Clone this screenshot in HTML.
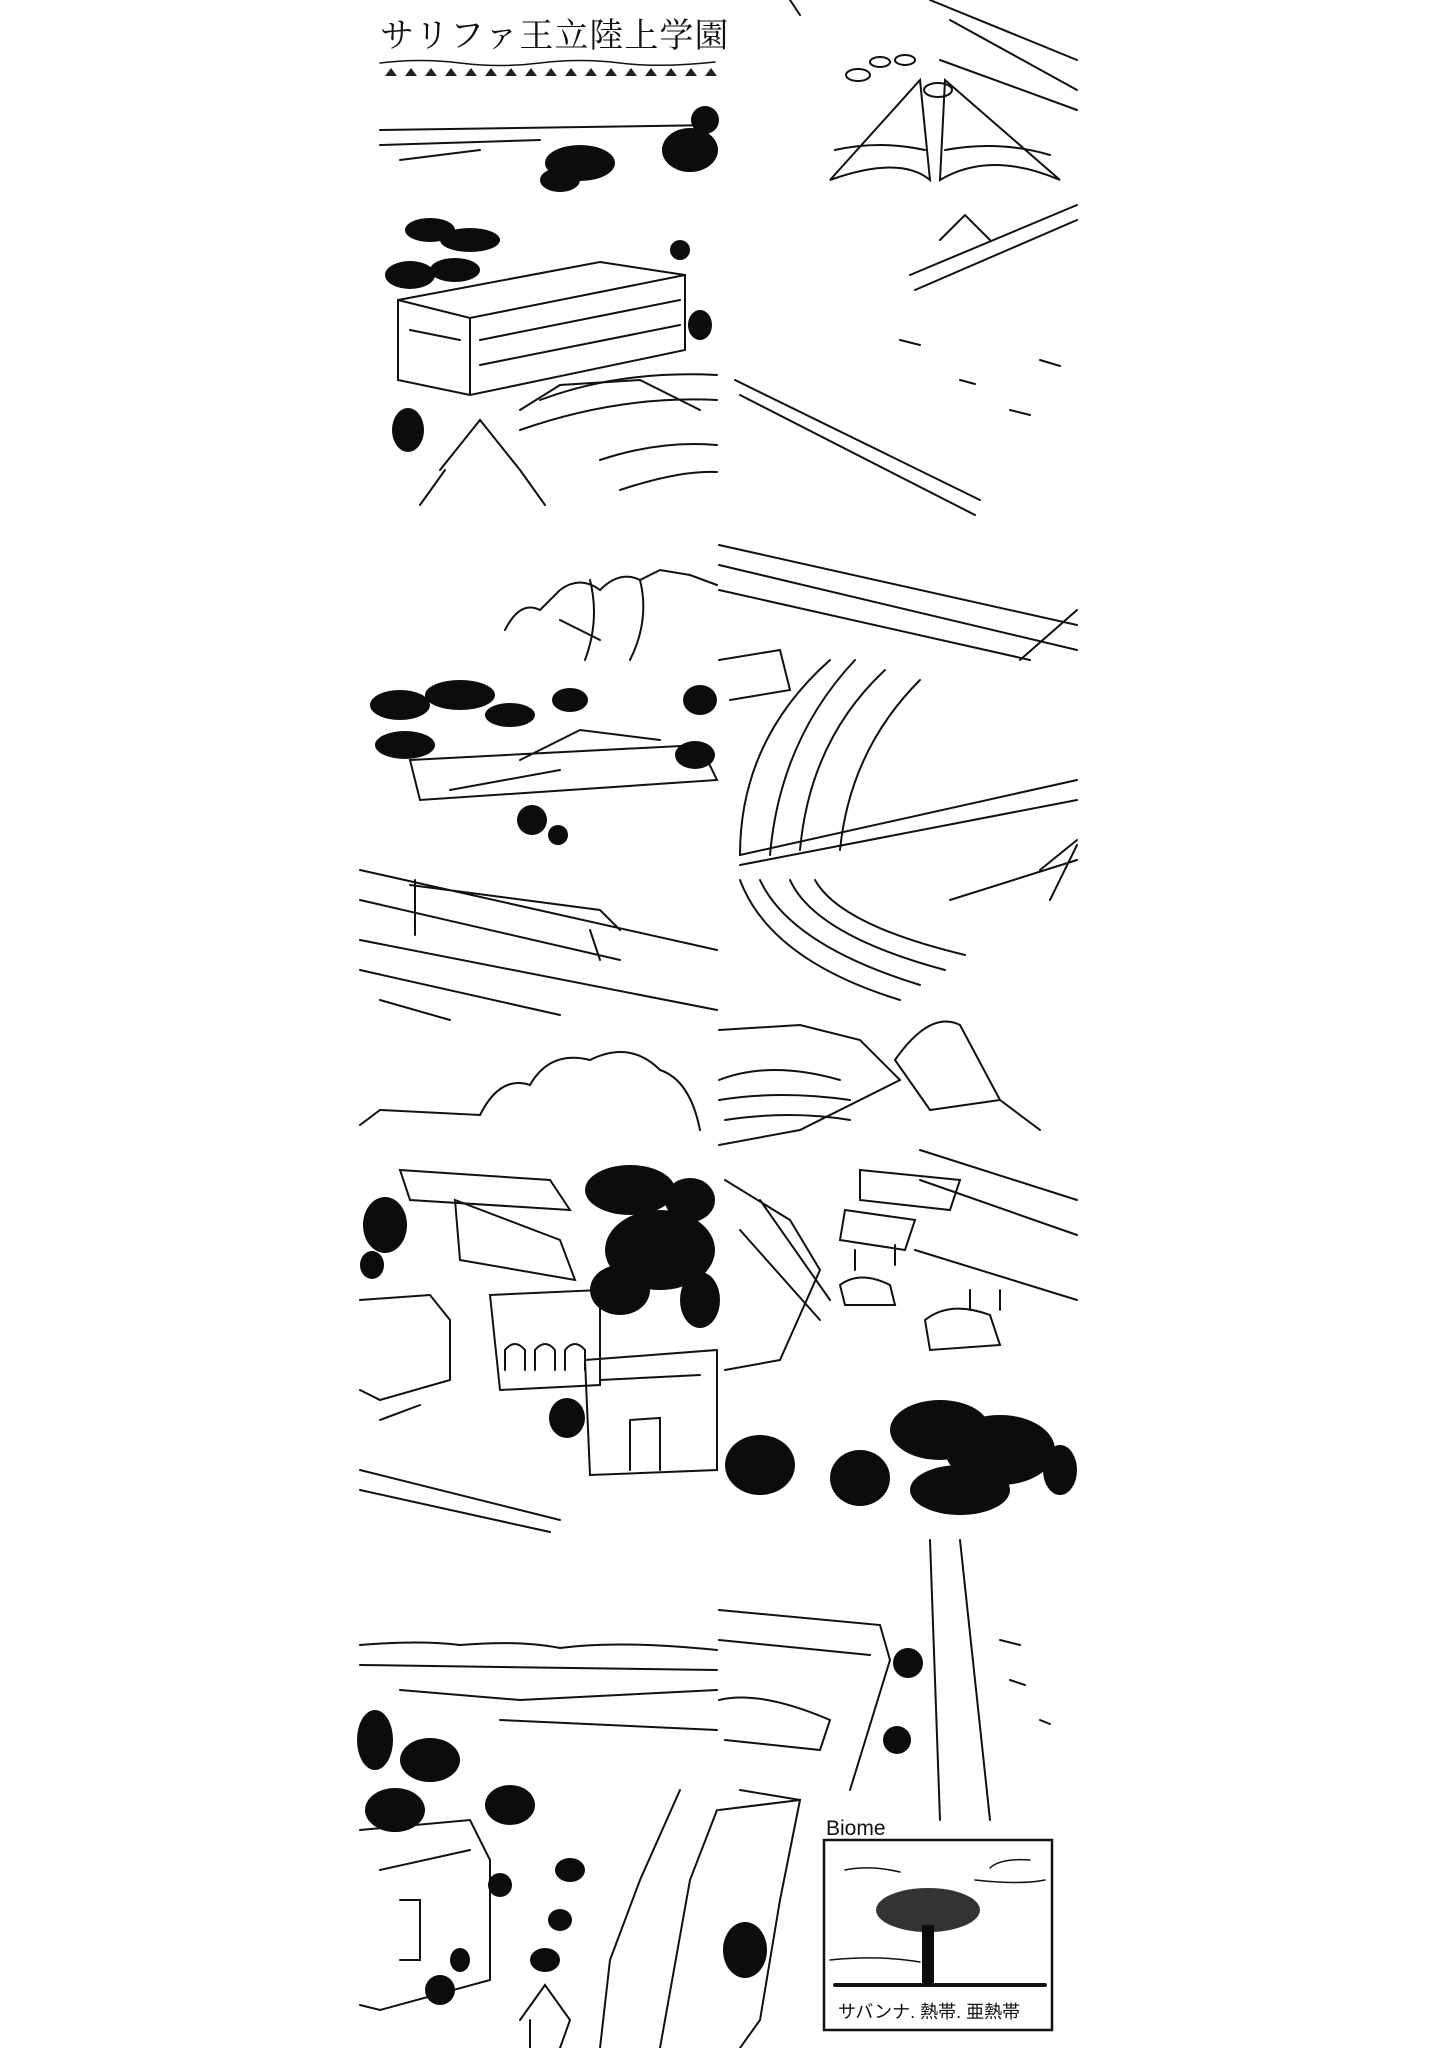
<!DOCTYPE html>
<html><head><meta charset="utf-8"><style>
html,body{margin:0;padding:0;background:#fff;width:1445px;height:2048px;overflow:hidden}
svg{position:absolute;left:0;top:0}
</style></head><body>
<svg width="1445" height="2048" viewBox="0 0 1445 2048" xmlns="http://www.w3.org/2000/svg">
<g fill="none" stroke="#111" stroke-width="2" stroke-linecap="round">
<!-- Panel 1 (col1,row1) -->
<text x="380" y="47" font-family="'Liberation Serif','Noto Serif CJK SC',serif" font-size="34" fill="#111" stroke="none" letter-spacing="1">サリファ王立陸上学園</text>
<path d="M380 63 Q420 58 460 63 T540 63 T620 63 T715 62" stroke-width="1.5"/>
<g fill="#222" stroke="none">
<path d="M385 76l6-8 6 8z M405 76l6-8 6 8z M425 76l6-8 6 8z M445 76l6-8 6 8z M465 76l6-8 6 8z M485 76l6-8 6 8z M505 76l6-8 6 8z M525 76l6-8 6 8z M545 76l6-8 6 8z M565 76l6-8 6 8z M585 76l6-8 6 8z M605 76l6-8 6 8z M625 76l6-8 6 8z M645 76l6-8 6 8z M665 76l6-8 6 8z M685 76l6-8 6 8z M705 76l6-8 6 8z"/>
</g>
<path d="M380 130 L717 125 M380 145 L540 140 M400 160 L480 150"/>
<path d="M398 300 L600 262 L685 275 L685 350 L470 395 L398 380 Z M398 300 L470 318 L685 275 M470 318 L470 395"/>
<path d="M410 330 L460 340 M480 340 L680 300 M480 365 L680 325"/>
<path d="M540 400 Q620 370 717 375 M520 430 Q620 395 717 400 M600 460 Q660 440 717 445 M620 490 Q680 470 717 472"/>
<path d="M440 470 L480 420 L520 470 M420 505 L445 470 M520 470 L545 505"/>
<path d="M520 410 L560 385 L640 380 L700 410"/>
<!-- Panel 2 (col2,row1) -->
<path d="M790 0 L800 15 M930 0 L1077 60 M950 20 L1077 90 M940 60 L1077 110"/>
<path d="M830 180 Q900 155 930 180 L920 80 Z M940 180 Q990 150 1060 180 L945 80 Z"/>
<path d="M835 150 Q880 140 925 150 M945 150 Q1000 140 1050 155"/>
<ellipse cx="858" cy="75" rx="12" ry="6"/><ellipse cx="880" cy="62" rx="10" ry="5"/><ellipse cx="905" cy="60" rx="10" ry="5"/><ellipse cx="938" cy="90" rx="14" ry="7"/>
<path d="M910 275 L1077 205 M915 290 L1077 220 M940 240 L965 215 L990 240"/>
<path d="M735 380 L980 500 M740 395 L975 515"/>
<path d="M900 340 l20 5 M960 380 l15 4 M1010 410 l20 5 M1040 360 l20 6"/>
<!-- Panel 3 (col1,row2) -->
<path d="M505 630 Q520 600 540 610 L560 590 Q580 575 600 590 Q620 570 640 580 L660 570 L690 575 L717 585"/>
<path d="M560 620 L600 640 M590 580 Q600 620 585 660 M640 580 Q650 620 630 660"/>
<path d="M410 760 L700 745 L717 780 L420 800 Z M450 790 L560 770 M520 760 L580 730 L660 740"/>
<path d="M360 870 L717 950 M360 900 L620 960 M410 885 L600 910 L620 930 M360 940 L717 1010 M360 970 L560 1015 M380 1000 L450 1020"/>
<path d="M415 880 L415 935 M590 930 L600 960"/>
<!-- Panel 4 (col2,row2) -->
<path d="M719 545 L1077 625 M719 565 L1077 650 M719 590 L1030 660 M1020 660 L1077 610"/>
<path d="M830 660 Q740 740 740 855 M855 660 Q780 740 770 855 M885 670 Q810 740 800 850 M920 680 Q850 750 840 850"/>
<path d="M740 855 L1077 780 M740 865 L1077 800"/>
<path d="M740 880 Q770 960 900 1000 M760 880 Q790 945 920 985 M790 880 Q815 935 945 970 M815 880 Q840 925 965 955"/>
<path d="M1050 900 L1077 845 M1077 840 L1040 870 M950 900 L1077 860"/>
<path d="M719 660 L780 650 L790 690 L730 700"/>
<!-- Panel 5 (col1,row3) -->
<path d="M360 1125 L380 1110 L480 1115 Q500 1075 530 1085 Q550 1050 590 1060 Q630 1040 660 1070 Q690 1080 700 1130"/>
<path d="M400 1170 L550 1180 L570 1210 L410 1200 Z M360 1300 L430 1295 L450 1320 L450 1380 L380 1400 L360 1390"/>
<path d="M490 1295 L600 1290 L600 1385 L500 1390 Z M505 1370 l0-20 q10-12 20 0 l0 20 M535 1370 l0-20 q10-12 20 0 l0 20 M565 1370 l0-20 q10-12 20 0 l0 20"/>
<path d="M585 1360 L717 1350 L717 1470 L590 1475 Z M600 1380 L700 1375 M630 1420 L660 1418 L660 1470 M630 1420 L630 1470"/>
<path d="M360 1470 L560 1520 M360 1490 L550 1532 M380 1420 L420 1405"/>
<path d="M455 1200 L560 1240 L575 1280 L460 1260 Z"/>
<!-- Panel 6 (col2,row3) -->
<path d="M719 1030 L800 1025 L860 1040 L900 1080 L800 1130 L719 1145"/>
<path d="M719 1080 Q770 1060 840 1080 M719 1100 Q780 1090 850 1100 M725 1120 Q790 1110 850 1120"/>
<path d="M895 1060 Q930 1010 960 1025 L1000 1100 L930 1110 Z M1000 1100 L1040 1130"/>
<path d="M860 1170 L960 1180 L950 1210 L860 1200 Z M845 1210 L915 1220 L905 1250 L840 1240 Z"/>
<path d="M920 1150 L1077 1200 M920 1180 L1077 1235 M915 1250 L1077 1300"/>
<path d="M840 1285 Q860 1270 890 1285 L895 1305 L845 1305 Z M925 1320 Q950 1300 990 1315 L1000 1345 L930 1350 Z"/>
<path d="M725 1180 L790 1220 L820 1270 L780 1360 L725 1370 M740 1230 L820 1320 M760 1200 L830 1300"/>
<path d="M855 1270 L855 1250 M895 1265 L895 1245 M970 1310 L970 1290 M1000 1310 L1000 1290"/>
<!-- Panel 7 (col1,row4) -->
<path d="M360 1645 Q420 1640 460 1645 Q520 1640 560 1648 Q620 1640 717 1650 M360 1665 L717 1670 M400 1690 L520 1700 L717 1690 M500 1720 L717 1730"/>
<path d="M360 1830 L470 1820 L490 1860 L490 1980 L380 2010 L360 2005 M380 1870 L470 1850 M400 1900 L420 1900 L420 1960 L400 1960"/>
<path d="M680 1790 L640 1880 L610 1960 L600 2048 M717 1810 L690 1880 L660 2048"/>
<path d="M520 2020 L545 1985 L570 2020 L560 2048 M530 2048 L530 2020"/>
<!-- Panel 8 (col2,row4) -->
<path d="M930 1540 L940 1820 M960 1540 L990 1820 M719 1610 L880 1625 L890 1660 L850 1790 M719 1640 L870 1655"/>
<path d="M719 1700 Q760 1690 830 1720 L820 1750 L725 1740 M740 1790 L800 1800"/>
<path d="M719 1810 L800 1800 L780 1900 L760 2020 L740 2048"/>
<path d="M1000 1640 l20 5 M1010 1680 l15 5 M1040 1720 l10 4"/>
<text x="826" y="1835" font-family="'Liberation Sans',sans-serif" font-size="21" fill="#111" stroke="none">Biome</text>
<rect x="824" y="1840" width="228" height="190" stroke-width="2.5"/>
<path d="M845 1870 Q870 1865 900 1872 M1030 1860 Q1000 1858 990 1868 M830 1960 Q880 1955 920 1962 M975 1880 Q1020 1885 1045 1880" stroke-width="1.5"/>
<path d="M835 1985 L1045 1985" stroke-width="4"/>
<text x="838" y="2018" font-family="'Liberation Sans','Noto Sans CJK JP',sans-serif" font-size="18" fill="#111" stroke="none">サバンナ. 熱帯. 亜熱帯</text>
</g>
<!-- black foliage blobs -->
<g fill="#0c0c0c" stroke="none">
<ellipse cx="580" cy="163" rx="35" ry="18"/><ellipse cx="560" cy="180" rx="20" ry="12"/>
<ellipse cx="690" cy="150" rx="28" ry="22"/><ellipse cx="705" cy="120" rx="14" ry="14"/>
<ellipse cx="430" cy="230" rx="25" ry="12"/><ellipse cx="470" cy="240" rx="30" ry="12"/><ellipse cx="410" cy="275" rx="25" ry="14"/><ellipse cx="455" cy="270" rx="25" ry="12"/>
<ellipse cx="408" cy="430" rx="16" ry="22"/><ellipse cx="680" cy="250" rx="10" ry="10"/><ellipse cx="700" cy="325" rx="12" ry="15"/>
<ellipse cx="460" cy="695" rx="35" ry="15"/><ellipse cx="400" cy="705" rx="30" ry="15"/><ellipse cx="510" cy="715" rx="25" ry="12"/>
<ellipse cx="405" cy="745" rx="30" ry="14"/><ellipse cx="570" cy="700" rx="18" ry="12"/>
<ellipse cx="700" cy="700" rx="17" ry="15"/><ellipse cx="695" cy="755" rx="20" ry="14"/>
<ellipse cx="532" cy="820" rx="15" ry="15"/><ellipse cx="558" cy="835" rx="10" ry="10"/>
<ellipse cx="630" cy="1190" rx="45" ry="25"/><ellipse cx="660" cy="1250" rx="55" ry="40"/><ellipse cx="620" cy="1290" rx="30" ry="25"/><ellipse cx="700" cy="1300" rx="20" ry="28"/><ellipse cx="690" cy="1200" rx="25" ry="22"/>
<ellipse cx="385" cy="1225" rx="22" ry="28"/><ellipse cx="372" cy="1265" rx="12" ry="14"/>
<ellipse cx="567" cy="1418" rx="18" ry="20"/>
<ellipse cx="760" cy="1465" rx="35" ry="30"/><ellipse cx="860" cy="1478" rx="30" ry="28"/>
<ellipse cx="940" cy="1430" rx="50" ry="30"/><ellipse cx="1000" cy="1450" rx="55" ry="35"/><ellipse cx="960" cy="1490" rx="50" ry="25"/><ellipse cx="1060" cy="1470" rx="17" ry="25"/>
<ellipse cx="375" cy="1740" rx="18" ry="30"/><ellipse cx="430" cy="1760" rx="30" ry="22"/><ellipse cx="395" cy="1810" rx="30" ry="22"/>
<ellipse cx="510" cy="1805" rx="25" ry="20"/><ellipse cx="570" cy="1870" rx="15" ry="12"/><ellipse cx="500" cy="1885" rx="12" ry="12"/>
<ellipse cx="560" cy="1920" rx="12" ry="11"/><ellipse cx="545" cy="1960" rx="15" ry="12"/><ellipse cx="440" cy="1990" rx="15" ry="15"/><ellipse cx="460" cy="1960" rx="10" ry="12"/>
<ellipse cx="908" cy="1663" rx="15" ry="15"/><ellipse cx="897" cy="1740" rx="14" ry="14"/>
<ellipse cx="745" cy="1950" rx="22" ry="28"/>
<ellipse cx="928" cy="1910" rx="52" ry="22" fill="#333"/><rect x="922" y="1925" width="12" height="60"/>
</g>
</svg>
</body></html>
